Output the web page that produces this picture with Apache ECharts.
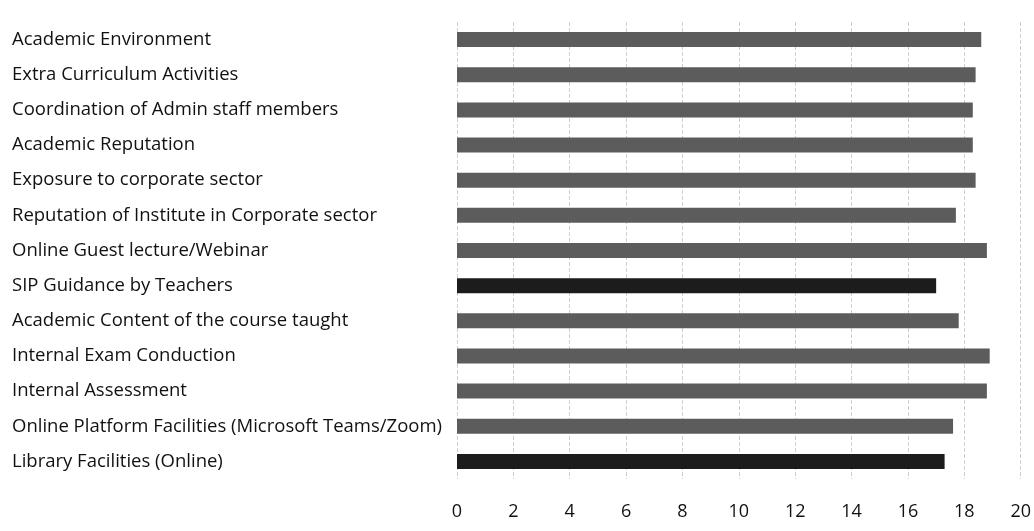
<!DOCTYPE html>
<html>
<head>
<meta charset="utf-8">
<script src="https://cdn.jsdelivr.net/npm/echarts@6/dist/echarts.min.js"></script>
<style>
  html, body { margin: 0; padding: 0; background: #fff; }
  #chart { width: 1034px; height: 531px; }
</style>
</head>
<body>
<div id="chart"></div>
<script>
const categories = [
  'Academic Environment',
  'Extra Curriculum Activities',
  'Coordination of Admin staff members',
  'Academic Reputation',
  'Exposure to corporate sector',
  'Reputation of Institute in Corporate sector',
  'Online Guest lecture/Webinar',
  'SIP Guidance by Teachers',
  'Academic Content of the course taught',
  'Internal Exam Conduction',
  'Internal Assessment',
  'Online Platform Facilities (Microsoft Teams/Zoom)',
  'Library Facilities (Online)'
]
const scores = [18.6, 18.4, 18.3, 18.3, 18.4, 17.7, 18.8, 17.0, 17.8, 18.9, 18.8, 17.6, 17.3]
// the two darker bars in the scan
const darkBars = ['SIP Guidance by Teachers', 'Library Facilities (Online)']

const chart = echarts.init(document.getElementById('chart'))

const option = {
  animation: false,
  textStyle: { fontFamily: '"Open Sans", sans-serif' },
  grid: { left: 457, right: 12, top: 22, bottom: 52 },
  xAxis: {
    type: 'value',
    min: 0,
    max: 20,
    interval: 2,
    axisLine: { show: false },
    axisTick: { show: false },
    axisLabel: { color: '#111', fontSize: 18, margin: 24 },
    splitLine: { lineStyle: { color: '#cfcfcf', type: 'dashed', width: 1 } }
  },
  yAxis: {
    type: 'category',
    data: categories,
    inverse: true,
    axisLine: { show: false },
    axisTick: { show: false },
    axisLabel: { color: '#111', fontSize: 18.5, align: 'left', margin: 445 }
  },
  series: [
    {
      type: 'bar',
      barWidth: 15,
      data: scores.map((v, i) => ({
        value: v,
        itemStyle: { color: darkBars.includes(categories[i]) ? '#1c1c1c' : '#5c5c5c' }
      }))
    }
  ]
}

chart.setOption(option)
</script>
</body>
</html>
